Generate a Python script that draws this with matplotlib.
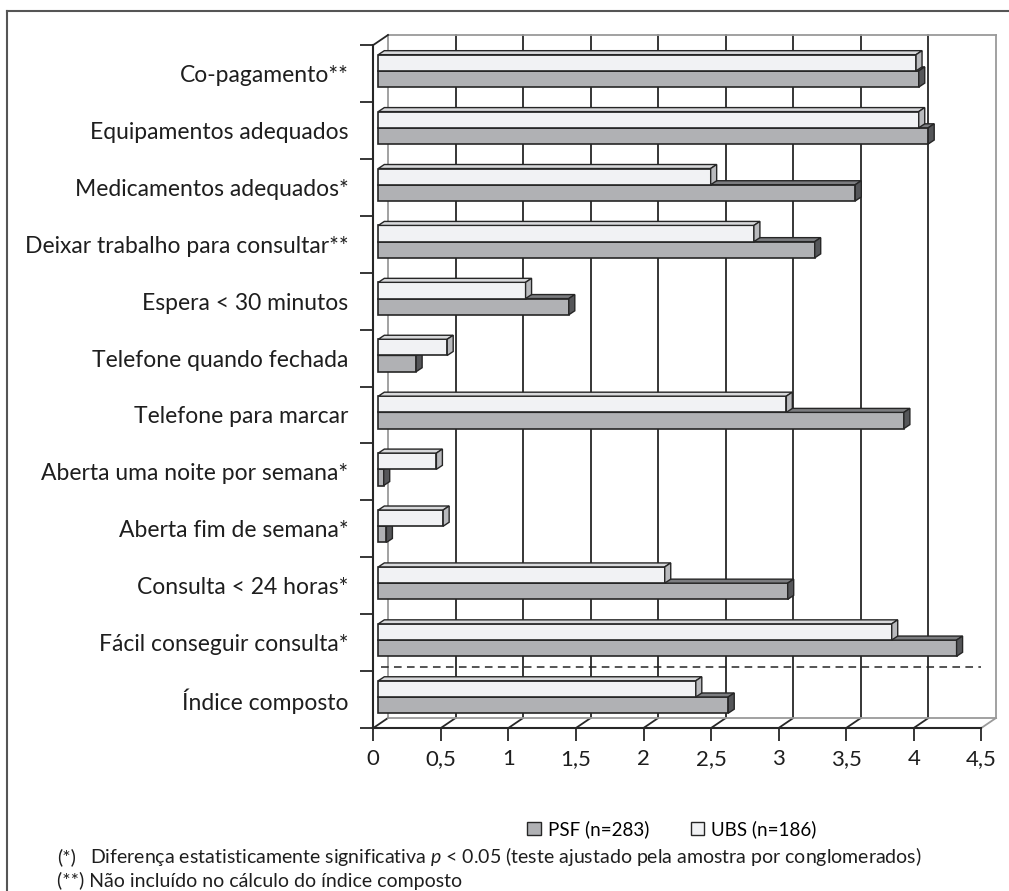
import matplotlib
matplotlib.use("Agg")
import matplotlib.pyplot as plt
from matplotlib.patches import Polygon, Patch
from matplotlib.lines import Line2D
import numpy as np

plt.rcParams['font.family'] = ['Lato', 'DejaVu Sans']
plt.rcParams['mathtext.fontset'] = 'custom'
plt.rcParams['mathtext.rm'] = 'Lato'
plt.rcParams['mathtext.it'] = 'Lato:italic'

# ---------------- data (top to bottom) ----------------
categories = [
    "Co-pagamento**",
    "Equipamentos adequados",
    "Medicamentos adequados*",
    "Deixar trabalho para consultar**",
    "Espera < 30 minutos",
    "Telefone quando fechada",
    "Telefone para marcar",
    "Aberta uma noite por semana*",
    "Aberta fim de semana*",
    "Consulta < 24 horas*",
    "Fácil conseguir consulta*",
    "Índice composto",
]
ubs_values = [3.98, 4.00, 2.46, 2.78, 1.09, 0.51, 3.02, 0.43, 0.48, 2.12, 3.80, 2.35]
psf_values = [4.00, 4.07, 3.53, 3.23, 1.41, 0.28, 3.89, 0.04, 0.06, 3.03, 4.28, 2.59]
x_ticks = [0, 0.5, 1, 1.5, 2, 2.5, 3, 3.5, 4, 4.5]
x_tick_labels = ["0", "0,5", "1", "1,5", "2", "2,5", "3", "3,5", "4", "4,5"]
legend_labels = ["PSF (n=283)", "UBS (n=186)"]
footnote1 = "Diferença estatisticamente significativa $p$ < 0.05 (teste ajustado pela amostra por conglomerados)"
footnote2 = "(**) Não incluído no cálculo do índice composto"

# ---------------- style ----------------
W, H = 1009, 891
fig = plt.figure(figsize=(W / 100, H / 100), dpi=100)
ax_l, ax_r, ax_t, ax_b = 373.3, 981.3, 45, 728
ax = fig.add_axes([ax_l / W, (H - ax_b) / H, (ax_r - ax_l) / W, (ax_b - ax_t) / H])
xmax = 4.5
n = len(categories)
ax.set_xlim(0, xmax)
ax.set_ylim(0, n)
px_x = (ax_r - ax_l) / xmax
px_y = (ax_b - ax_t) / n

# 3D offsets (data units)
dxb, dyb = 14.7 / px_x, 10 / px_y         # back wall offset
bar_ox = 5 / px_x                          # bar front-face start
ddx, ddy = 6 / px_x, 4 / px_y              # bar depth
bar_h = 0.285
grp_c = 0.545

dark = '#262626'
gray = '#9a9a9a'
txt = '#1e1e1e'
ubs_front, ubs_top, ubs_side = '#f1f2f4', '#d8d9db', '#b9babd'
psf_front, psf_top, psf_side = '#b0b1b4', '#7c7d80', '#555659'

# back wall + floor
for v in x_ticks:
    c = gray if v in (0, xmax) else dark
    ax.plot([v + dxb, v + dxb], [dyb, n + dyb], color=c, lw=1.3, zorder=1, clip_on=False)
    ax.plot([v, v + dxb], [0, dyb], color=c if v == xmax else dark, lw=1.3, zorder=1, clip_on=False)
ax.plot([dxb, xmax + dxb], [n + dyb, n + dyb], color=gray, lw=1.3, zorder=1, clip_on=False)
ax.plot([dxb, xmax + dxb], [dyb, dyb], color=gray, lw=1.3, zorder=1, clip_on=False)
ax.plot([0, dxb], [n, n + dyb], color=dark, lw=1.3, zorder=1, clip_on=False)

# dashed separator
ax.plot([0.06, xmax], [1 + 0.07, 1 + 0.07], color=dark, lw=1.1, ls=(0, (5, 3.5)), zorder=2, clip_on=False)


def draw_bar(yc, val, front, top, side, z):
    L = bar_ox
    R = L + val
    B = yc - bar_h / 2
    T = yc + bar_h / 2
    ax.barh(yc, val, height=bar_h, left=L, color=front, edgecolor=dark, lw=1.2, zorder=z)
    ax.add_patch(Polygon([(L, T), (R, T), (R + ddx, T + ddy), (L + ddx, T + ddy)],
                         closed=True, fc=top, ec=dark, lw=1.0, zorder=z, clip_on=False))
    ax.add_patch(Polygon([(R, B), (R, T), (R + ddx, T + ddy), (R + ddx, B + ddy)],
                         closed=True, fc=side, ec=dark, lw=1.0, zorder=z, clip_on=False))


for i, (u, p) in enumerate(zip(ubs_values, psf_values)):
    k = n - 1 - i
    draw_bar(k + grp_c - bar_h / 2, p, psf_front, psf_top, psf_side, 3)
    draw_bar(k + grp_c + bar_h / 2, u, ubs_front, ubs_top, ubs_side, 4)

# axes styling
for s in ['top', 'right']:
    ax.spines[s].set_visible(False)
for s in ['left', 'bottom']:
    ax.spines[s].set_color(dark)
    ax.spines[s].set_linewidth(1.5)
ax.set_xticks(x_ticks)
ax.set_xticklabels(x_tick_labels, fontsize=16, color=txt)
ax.set_yticks(np.arange(0, n + 1))
ax.set_yticklabels([])
ax.set_yticks(np.arange(n) + 0.5, minor=True)
ax.set_yticklabels(categories[::-1], minor=True, fontsize=16.5, color=txt)
ax.tick_params(axis='x', length=9.4, width=1.3, color=dark, pad=6)
ax.tick_params(axis='y', which='major', length=9.4, width=1.3, color=dark)
ax.tick_params(axis='y', which='minor', length=0, pad=18)
ax.patch.set_alpha(0)

# legend
handles = [Patch(fc=psf_front, ec=dark, lw=1.0), Patch(fc=ubs_front, ec=dark, lw=1.0)]
fig.legend(handles, legend_labels, loc='center', bbox_to_anchor=(672 / W, 1 - 829 / H),
           ncol=2, frameon=False, fontsize=13.5, handlelength=0.7, handleheight=0.7,
           handletextpad=0.4, columnspacing=2.2)

# footnotes
fig.text(57 / W, 1 - 857 / H, "(*)", fontsize=14, va='center', ha='left', color=txt)
fig.text(90 / W, 1 - 857 / H, footnote1, fontsize=14, va='center', ha='left', color=txt)
fig.text(57 / W, 1 - 881 / H, footnote2, fontsize=14, va='center', ha='left', color=txt)

# outer frame
fig.add_artist(Line2D([7 / W, 7 / W], [0, 1 - 11 / H], color='#555555', lw=1.5))
fig.add_artist(Line2D([7 / W, 1], [1 - 11 / H, 1 - 11 / H], color='#555555', lw=1.5))

fig.savefig("out.png", dpi=100)
